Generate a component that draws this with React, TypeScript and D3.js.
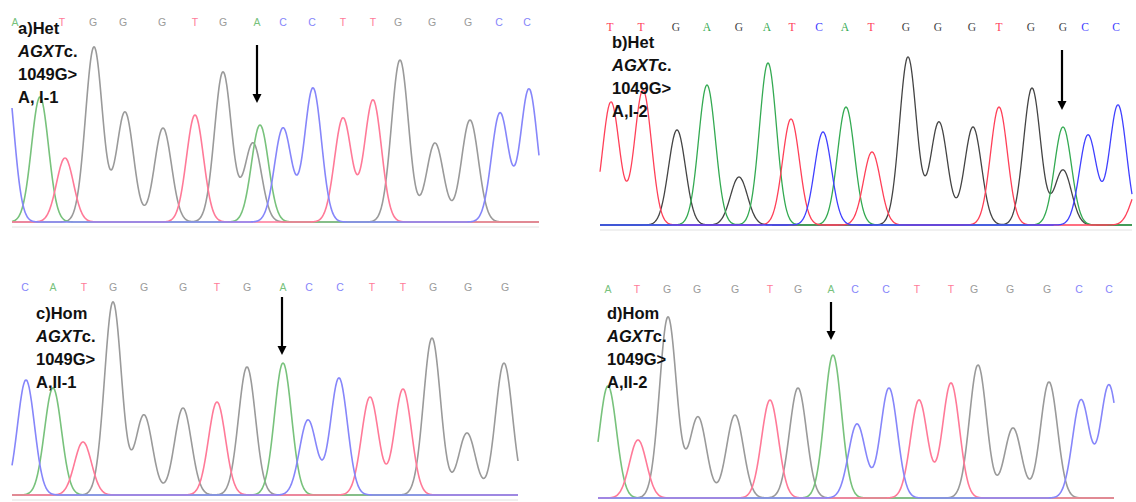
import * as d3 from "d3";

const W = 1136;
const H = 502;

// base-call letters shown above each trace, and their scan positions
const aCalls = "ATGGGTGACCTTGGGCC".split("");
const aCallScan = [3, 50, 81, 111, 150, 183, 211, 245, 271, 300, 331, 361, 386, 420, 456, 487, 515];
const bCalls = "TTGAGATCATGGGTGGCC".split("");
const bCallScan = [10, 41, 76, 107, 139, 167, 192, 219, 245, 271, 306, 338, 372, 399, 431, 463, 485, 516];
const cCalls = "CATGGGTGACCTTGGG".split("");
const cCallScan = [13, 41, 72, 101, 132, 171, 205, 235, 271, 297, 328, 360, 391, 421, 456, 493];
const dCalls = "ATGGGTGACCTTGGGCC".split("");
const dCallScan = [10, 39, 69, 99, 137, 172, 200, 233, 257, 288, 319, 353, 376, 412, 449, 481, 511];

// peaks: dye channel, scan position, height (RFU)
const aPeakBase = ["C", "A", "T", "G", "G", "G", "T", "G", "G", "A", "C", "C", "T", "T", "G", "G", "G", "C", "C"];
const aPeakScan = [-7, 28, 53, 82, 113, 151, 183, 211, 241, 248, 271, 301, 331, 361, 388, 423, 458, 488, 517];
const aPeakRfu = [1600, 1250, 640, 1750, 1100, 940, 1070, 1500, 790, 970, 940, 1340, 1040, 1220, 1620, 790, 1020, 1090, 1330];

const bPeakBase = ["T", "T", "G", "A", "G", "A", "T", "C", "A", "T", "G", "G", "G", "T", "G", "A", "G", "C", "C", "T"];
const bPeakScan = [11, 43, 77, 107, 139, 168, 191, 223, 246, 272, 308, 339, 373, 399, 432, 463, 463, 488, 518, 540];
const bPeakRfu = [1230, 1350, 950, 1400, 480, 1620, 1060, 930, 1180, 730, 1680, 1030, 980, 1180, 1370, 980, 550, 900, 1200, 400];

const cPeakBase = ["C", "A", "T", "G", "G", "G", "T", "G", "A", "C", "C", "T", "T", "G", "G", "G"];
const cPeakScan = [14, 41, 71, 101, 132, 171, 205, 235, 271, 296, 327, 358, 391, 420, 455, 492];
const cPeakRfu = [1150, 1070, 530, 1930, 800, 870, 930, 1280, 1320, 750, 1170, 980, 1060, 1570, 620, 1320];

const dPeakBase = ["A", "T", "G", "G", "G", "T", "G", "A", "C", "C", "T", "T", "G", "G", "G", "C", "C"];
const dPeakScan = [10, 40, 70, 100, 137, 172, 200, 235, 259, 291, 321, 353, 380, 415, 451, 483, 511];
const dPeakRfu = [1120, 580, 1810, 810, 830, 980, 1100, 1430, 740, 1100, 980, 1150, 1330, 700, 1160, 980, 1130];

// arrow marking the c.1049G>A position: scan, top and tip in RFU
const arrowScan = [245, 462, 270, 233];
const arrowTop = [1770, 1750, 1980, 1960];
const arrowTip = [1190, 1150, 1400, 1580];

const labelHead = ["a)Het", "b)Het", "c)Hom", "d)Hom"];
const labelLast = ["A, I-1", "A,I-2", "A,II-1", "A,II-2"];

const soft = { G: "#9a9a9a", A: "#78c27c", C: "#8686fa", T: "#ff7a98" };
const sharp = { G: "#444444", A: "#34aa52", C: "#4040ff", T: "#ff4058" };

const panels = [
  { calls: aCalls, callScan: aCallScan, base: aPeakBase, scan: aPeakScan, rfu: aPeakRfu,
    left: 12, right: 539, baseline: 222, callY: 26, labelX: 18, labelY: 34,
    colors: soft, order: ["G", "A", "T", "C"], font: "Liberation Sans", fs: 10.5, lw: 1.6 },
  { calls: bCalls, callScan: bCallScan, base: bPeakBase, scan: bPeakScan, rfu: bPeakRfu,
    left: 600, right: 1132, baseline: 225, callY: 31, labelX: 612, labelY: 48,
    colors: sharp, order: ["G", "A", "T", "C"], font: "Liberation Serif", fs: 11.5, lw: 1.3 },
  { calls: cCalls, callScan: cCallScan, base: cPeakBase, scan: cPeakScan, rfu: cPeakRfu,
    left: 12, right: 518, baseline: 495, callY: 291, labelX: 36, labelY: 319,
    colors: soft, order: ["G", "A", "T", "C"], font: "Liberation Sans", fs: 10.5, lw: 1.6 },
  { calls: dCalls, callScan: dCallScan, base: dPeakBase, scan: dPeakScan, rfu: dPeakRfu,
    left: 598, right: 1114, baseline: 498, callY: 293, labelX: 607, labelY: 319,
    colors: soft, order: ["G", "A", "T", "C"], font: "Liberation Sans", fs: 10.5, lw: 1.6 },
];

const SIGMA = 8.5;

function Panel({ p, i }: { p: any; i: number }) {
  const span = p.right - p.left;
  const x = d3.scaleLinear().domain([0, span]).range([p.left, p.right]);
  const y = d3.scaleLinear().domain([0, 2000]).range([p.baseline, p.baseline - 200]);
  const scans = d3.range(0, span + 0.01, 0.5);

  const trace = (ch: string) =>
    scans.map((s) => {
      let v = 0;
      p.base.forEach((b: string, k: number) => {
        if (b !== ch) return;
        const d = s - p.scan[k];
        v += p.rfu[k] * Math.exp(-(d * d) / (2 * SIGMA * SIGMA));
      });
      return [s, v] as [number, number];
    });

  const line = d3.line<[number, number]>().x((d) => x(d[0])).y((d) => y(d[1])).curve(d3.curveMonotoneX);
  const ax = x(arrowScan[i]);
  const tipY = y(arrowTip[i]);

  return (
    <g>
      <line x1={p.left} x2={p.right} y1={p.baseline + 5} y2={p.baseline + 5} stroke="#e2e2e2" strokeWidth={1} />
      {p.order.map((ch: string) => (
        <path key={ch} d={line(trace(ch)) || ""} fill="none" stroke={p.colors[ch]} strokeWidth={p.lw} />
      ))}
      {p.calls.map((c: string, k: number) => (
        <text key={k} x={x(p.callScan[k])} y={p.callY} textAnchor="middle" fontFamily={p.font}
          fontSize={p.fs} fill={p.colors[c]}>{c}</text>
      ))}
      <line x1={ax} x2={ax} y1={y(arrowTop[i])} y2={tipY - 7} stroke="#000" strokeWidth={2.2} />
      <path d={`M${ax - 4.5},${tipY - 9} L${ax + 4.5},${tipY - 9} L${ax},${tipY} Z`} fill="#000" />
      <g fontFamily="Liberation Sans, Arial, sans-serif" fontWeight="bold" fontSize={16.5} fill="#111">
        <text x={p.labelX} y={p.labelY}>{labelHead[i]}</text>
        <text x={p.labelX} y={p.labelY + 23}><tspan fontStyle="italic">AGXT</tspan>c.</text>
        <text x={p.labelX} y={p.labelY + 46}>1049G&gt;</text>
        <text x={p.labelX} y={p.labelY + 69}>{labelLast[i]}</text>
      </g>
    </g>
  );
}

export default function App() {
  return (
    <svg width={W} height={H} style={{ position: "absolute", left: 0, top: 0, background: "#fff" }}>
      <rect width={W} height={H} fill="#fff" />
      {panels.map((p, i) => (
        <Panel key={i} p={p} i={i} />
      ))}
    </svg>
  );
}
